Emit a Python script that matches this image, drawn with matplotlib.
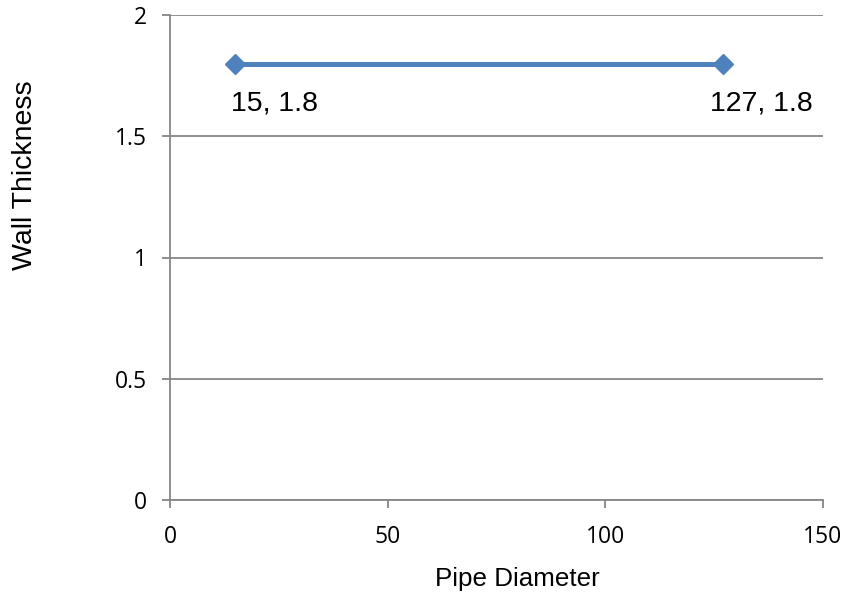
import matplotlib.pyplot as plt

# dados
diametro = [15, 127]
espessura = [1.8, 1.8]
rotulos = ['15, 1.8', '127, 1.8']
xticks = [0, 50, 100, 150]
yticks = [0, 0.5, 1, 1.5, 2]

cinza = '#868686'

fig = plt.figure(figsize=(8.45, 5.92), dpi=100)
ax = fig.add_axes([170 / 845, 92 / 592, 653 / 845, 485 / 592])

ax.plot(diametro, espessura, color='#4F81BD', linewidth=3.6, marker='D',
        markersize=10.5, zorder=3, clip_on=False)

for x, y, r in zip(diametro, espessura, rotulos):
    ax.annotate(r, (x, y), xytext=(28, -29), textcoords='offset points',
                ha='center', va='center', fontsize=20.5, family='Liberation Sans')

ax.set_xlim(0, 150)
ax.set_ylim(0, 2)
ax.set_xticks(xticks)
ax.set_yticks(yticks)
ax.set_xticklabels([str(v) for v in xticks], family='Open Sans')
ax.set_yticklabels(['0', '0.5', '1', '1.5', '2'], family='Open Sans')
ax.tick_params(axis='both', labelsize=16.5, colors=cinza, labelcolor='black',
               length=5.8, width=1.3)
ax.tick_params(axis='x', pad=12)
ax.tick_params(axis='y', pad=11)

ax.grid(True, axis='y', color=cinza, linewidth=1.3)
ax.set_axisbelow(True)
for s in ['top', 'right']:
    ax.spines[s].set_visible(False)
for s in ['left', 'bottom']:
    ax.spines[s].set_color(cinza)
    ax.spines[s].set_linewidth(1.3)

fig.text(517 / 845, 1 - 586 / 592, 'Pipe Diameter', ha='center', va='baseline',
         fontsize=18.7, family='Liberation Sans')
fig.text(25.5 / 845, 1 - 175 / 592, 'Wall Thickness', ha='center', va='center',
         rotation=90, fontsize=20.5, family='Liberation Sans')

plt.savefig('out.png', dpi=100)
